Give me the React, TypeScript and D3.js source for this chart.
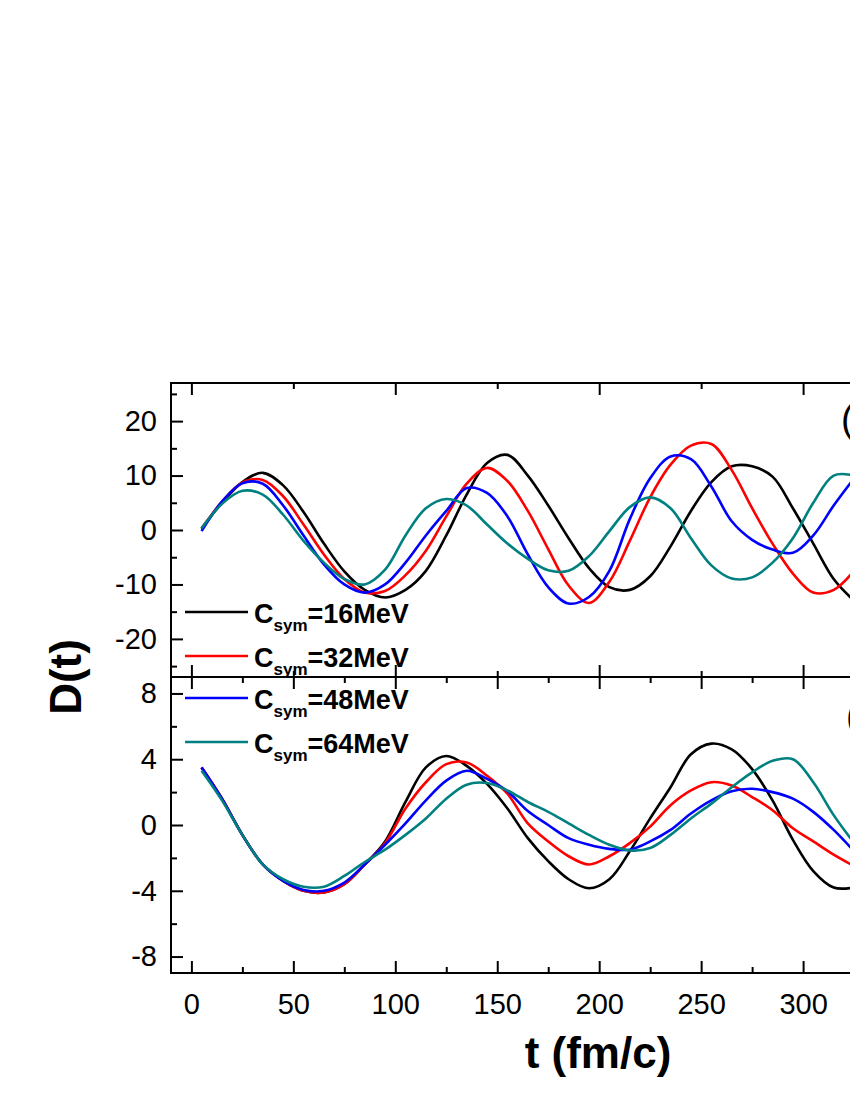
import React, { useEffect, useRef } from "react";
import {
  axisBottom,
  axisLeft,
  axisTop,
  curveCatmullRom,
  line,
  scaleLinear,
  select,
} from "d3";

// sampling times (fm/c)
const times = [
  5, 15, 25, 35, 45, 55, 65, 75, 85, 95, 105, 115, 125, 135, 145, 155, 165,
  175, 185, 195, 205, 215, 225, 235, 245, 255, 265, 275, 285, 295, 305, 315,
  325,
];

// panel (a)
const topC16 = [
  0.3, 5.0, 8.8, 10.5, 8.2, 3.3, -2.5, -7.6, -11.0, -12.4, -11.0, -7.5, -1.0,
  6.5, 12.3, 13.8, 10.0, 4.5, -1.5, -7.0, -10.5, -11.0, -8.5, -3.0, 3.5, 8.8,
  11.7, 11.7, 9.8, 4.0, -2.5, -9.0, -13.0,
];
const topC32 = [
  0.2, 5.2, 8.7, 9.2, 6.2, 1.0, -4.5, -9.0, -11.5, -11.2, -8.3, -3.8, 2.5, 8.5,
  11.4, 9.0, 3.5, -3.5, -10.2, -13.4, -9.5, -2.0, 6.0, 12.0, 15.5, 15.8, 11.0,
  4.0, -2.5, -8.0, -11.5, -11.0, -7.5,
];
const topC48 = [
  -0.2, 5.2, 8.6, 8.5, 4.5, -1.0, -6.3, -10.0, -11.5, -10.0, -6.0, -1.0, 3.5,
  7.7, 6.8, 2.5, -4.5, -10.5, -13.5, -12.3, -7.5, 2.0, 9.5, 13.5, 13.0, 8.0,
  1.6, -1.8, -3.6, -4.2, -1.0, 4.5, 9.5,
];
const topC64 = [
  0.3, 4.8, 7.2, 6.5, 2.8, -2.0, -6.0, -9.0, -10.0, -7.3, -1.0, 4.0, 5.7, 4.5,
  1.0, -2.5, -5.3, -7.4, -7.5, -4.8, -0.2, 4.2, 6.0, 4.0, -1.5, -6.5, -8.9,
  -8.7, -6.0, -1.5, 5.0, 10.0, 10.0,
];

// panel (b)
const botC16 = [
  3.5, 1.6, -0.6, -2.4, -3.4, -4.0, -4.1, -3.6, -2.4, -1.0, 1.4, 3.5, 4.2, 3.6,
  2.5, 1.0, -0.8, -2.2, -3.3, -3.85, -3.3, -1.6, 0.4, 2.3, 4.3, 4.95, 4.6, 3.4,
  1.5, -0.9, -2.8, -3.8, -3.8,
];
const botC32 = [
  3.5, 1.6, -0.6, -2.4, -3.4, -4.0, -4.1, -3.6, -2.4, -1.1, 1.0, 2.6, 3.7, 3.8,
  3.0, 1.9, 0.1, -1.0, -1.9, -2.4, -1.9, -1.1, -0.1, 1.2, 2.1, 2.6, 2.4, 1.7,
  0.9, -0.2, -1.0, -1.8, -2.5,
];
const botC48 = [
  3.5, 1.6, -0.6, -2.4, -3.4, -3.95, -4.0, -3.5, -2.4, -1.2, 0.1, 1.5, 2.7,
  3.3, 2.8, 2.05, 0.85, 0.0, -0.8, -1.2, -1.45, -1.5, -1.0, -0.3, 0.7, 1.5,
  2.05, 2.2, 2.0, 1.6, 0.8, -0.3, -1.6,
];
const botC64 = [
  3.3, 1.5, -0.6, -2.4, -3.3, -3.75, -3.75, -3.1, -2.25, -1.5, -0.6, 0.4, 1.6,
  2.45, 2.55, 2.1, 1.4, 0.8, 0.1, -0.6, -1.2, -1.55, -1.4, -0.6, 0.4, 1.3, 2.3,
  3.2, 3.9, 4.0, 2.6, 0.6, -1.1,
];

const legendLabels = ["=16MeV", "=32MeV", "=48MeV", "=64MeV"];
const colors = ["#000000", "#ff0000", "#0000ff", "#008080"];

const topYTicks = [-20, -10, 0, 10, 20];
const topYMinor = [-25, -15, -5, 5, 15, 25];
const botYTicks = [-8, -4, 0, 4, 8];
const botYMinor = [-6, -2, 2, 6];
const topXTicks = [0, 100, 200, 300, 400];
const topXMinor = [50, 150, 250, 350];
const botXTicks = [0, 50, 100, 150, 200, 250, 300, 350, 400];
const botXMinor = [25, 75, 125, 175, 225, 275, 325, 375];
const lastXLabel = 300; // labels further right fall outside the picture

const width = 850;
const height = 1100;
const left = 171;
const right = 1007;
const topA = 383;
const mid = 677;
const botB = 973;
const numFont = "'Liberation Sans', Arial, Helvetica, sans-serif";

const App = () => {
  const svgRef = useRef(null);

  const x = scaleLinear().domain([-10, 400]).range([left, right]);
  const yTop = scaleLinear().domain([-27, 27]).range([mid, topA]);
  const yBot = scaleLinear().domain([-9, 9]).range([botB, mid]);

  const topLine = line()
    .x((d, i) => x(times[i]))
    .y((d) => yTop(d))
    .curve(curveCatmullRom);
  const botLine = line()
    .x((d, i) => x(times[i]))
    .y((d) => yBot(d))
    .curve(curveCatmullRom);

  useEffect(() => {
    const svg = select(svgRef.current);
    const plain = (d) => String(d);
    const none = () => "";

    const style = (g) => {
      g.select(".domain").remove();
      g.attr("font-size", 29).attr("font-family", numFont);
      g.selectAll("line").attr("stroke-width", 2);
      g.selectAll("text").attr("fill", "#000");
    };

    // y axes
    svg
      .select(".ya")
      .call(axisLeft(yTop).tickValues(topYTicks).tickSize(-12).tickPadding(14).tickFormat(plain))
      .call(style);
    svg
      .select(".ya-m")
      .call(axisLeft(yTop).tickValues(topYMinor).tickSize(-6).tickFormat(none))
      .call(style);
    svg
      .select(".yb")
      .call(axisLeft(yBot).tickValues(botYTicks).tickSize(-12).tickPadding(14).tickFormat(plain))
      .call(style);
    svg
      .select(".yb-m")
      .call(axisLeft(yBot).tickValues(botYMinor).tickSize(-6).tickFormat(none))
      .call(style);

    // x axes, panel (a)
    svg
      .select(".xa-top")
      .call(axisTop(x).tickValues(topXTicks).tickSize(-12).tickFormat(none))
      .call(style);
    svg
      .select(".xa-top-m")
      .call(axisTop(x).tickValues(topXMinor).tickSize(-6).tickFormat(none))
      .call(style);
    svg
      .select(".xa-bot")
      .call(axisBottom(x).tickValues(topXTicks).tickSize(-12).tickFormat(none))
      .call(style);
    svg
      .select(".xa-bot-m")
      .call(axisBottom(x).tickValues(topXMinor).tickSize(-6).tickFormat(none))
      .call(style);

    // x axes, panel (b)
    svg
      .select(".xb-top")
      .call(axisTop(x).tickValues(botXTicks).tickSize(-12).tickFormat(none))
      .call(style);
    svg
      .select(".xb-top-m")
      .call(axisTop(x).tickValues(botXMinor).tickSize(-6).tickFormat(none))
      .call(style);
    svg
      .select(".xb-bot")
      .call(
        axisBottom(x)
          .tickValues(botXTicks)
          .tickSize(-12)
          .tickPadding(20)
          .tickFormat((d) => (d <= lastXLabel ? String(d) : ""))
      )
      .call(style);
    svg
      .select(".xb-bot-m")
      .call(axisBottom(x).tickValues(botXMinor).tickSize(-6).tickFormat(none))
      .call(style);
  }, []);

  const topSeries = [topC16, topC32, topC48, topC64];
  const botSeries = [botC16, botC32, botC48, botC64];
  const legendY = [612, 656, 698, 742];

  return (
    <svg
      ref={svgRef}
      width={width}
      height={height}
      style={{ position: "absolute", left: 0, top: 0, background: "#fff" }}
    >
      <defs>
        <clipPath id="clipA">
          <rect x={left} y={topA} width={right - left} height={mid - topA} />
        </clipPath>
        <clipPath id="clipB">
          <rect x={left} y={mid} width={right - left} height={botB - mid} />
        </clipPath>
      </defs>

      <g clipPath="url(#clipA)">
        {topSeries.map((s, i) => (
          <path key={i} d={topLine(s)} fill="none" stroke={colors[i]} strokeWidth={2.6} />
        ))}
      </g>
      <g clipPath="url(#clipB)">
        {botSeries.map((s, i) => (
          <path key={i} d={botLine(s)} fill="none" stroke={colors[i]} strokeWidth={2.6} />
        ))}
      </g>

      <g className="ya" transform={`translate(${left},0)`} />
      <g className="ya-m" transform={`translate(${left},0)`} />
      <g className="yb" transform={`translate(${left},0)`} />
      <g className="yb-m" transform={`translate(${left},0)`} />
      <g className="xa-top" transform={`translate(0,${topA})`} />
      <g className="xa-top-m" transform={`translate(0,${topA})`} />
      <g className="xa-bot" transform={`translate(0,${mid})`} />
      <g className="xa-bot-m" transform={`translate(0,${mid})`} />
      <g className="xb-top" transform={`translate(0,${mid})`} />
      <g className="xb-top-m" transform={`translate(0,${mid})`} />
      <g className="xb-bot" transform={`translate(0,${botB})`} />
      <g className="xb-bot-m" transform={`translate(0,${botB})`} />

      <rect x={left} y={topA} width={right - left} height={mid - topA} fill="none" stroke="#000" strokeWidth={2} />
      <rect x={left} y={mid} width={right - left} height={botB - mid} fill="none" stroke="#000" strokeWidth={2} />

      {legendLabels.map((lab, i) => (
        <g key={lab}>
          <line x1={185} x2={248} y1={legendY[i]} y2={legendY[i]} stroke={colors[i]} strokeWidth={2.6} />
          <text x={254} y={legendY[i] + 11} fontFamily={numFont} fontWeight="bold" fontSize={27}>
            C
            <tspan fontSize={17} dy={8}>sym</tspan>
            <tspan dy={-8}>{lab}</tspan>
          </text>
        </g>
      ))}

      <text x={841} y={432} fontFamily={numFont} fontSize={38}>(a)</text>
      <text x={846} y={729} fontFamily={numFont} fontSize={38}>(b)</text>

      <text
        transform={`translate(81,${mid}) rotate(-90)`}
        textAnchor="middle"
        fontFamily={numFont}
        fontWeight="bold"
        fontSize={44}
      >
        D(t)
      </text>
      <text x={598} y={1068} textAnchor="middle" fontFamily={numFont} fontWeight="bold" fontSize={44}>
        t (fm/c)
      </text>
    </svg>
  );
};

export default App;
